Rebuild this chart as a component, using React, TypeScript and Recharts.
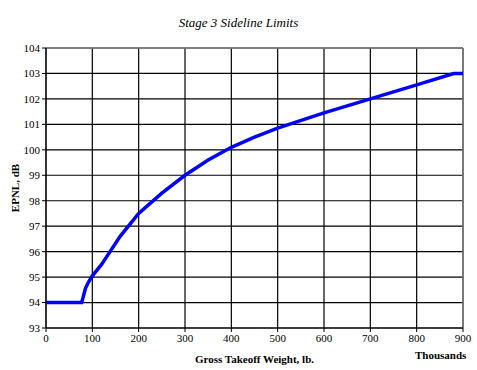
import React from 'react';
import { LineChart, Line, XAxis, YAxis, CartesianGrid, ReferenceLine, Label } from 'recharts';

// gross takeoff weight, thousands of lb
const weights = [0, 77, 80, 85, 90, 100, 120, 140, 160, 180, 200, 250, 300, 350, 400, 450, 500, 600, 700, 800, 880, 900];
// EPNL limit, dB
const epnl = [94, 94, 94.2, 94.55, 94.75, 95.05, 95.5, 96.05, 96.6, 97.05, 97.5, 98.3, 99.0, 99.6, 100.1, 100.5, 100.85, 101.45, 102.0, 102.55, 103.0, 103.0];

const xTicks = [0, 100, 200, 300, 400, 500, 600, 700, 800, 900];
const yTicks = [93, 94, 95, 96, 97, 98, 99, 100, 101, 102, 103, 104];

const data = weights.map((w, i) => ({ x: w, y: epnl[i] }));

const font = '"Liberation Serif", "Times New Roman", serif';

export default function App() {
  return (
    <div style={{ position: 'absolute', left: 0, top: 0, width: 477, height: 370, background: '#fff', fontFamily: font }}>
      <div style={{ position: 'absolute', top: 15, left: 0, width: 477, textAlign: 'center', fontStyle: 'italic', fontSize: 13, color: '#000' }}>
        Stage 3 Sideline Limits
      </div>
      <div style={{ position: 'absolute', top: 349, left: 415, fontWeight: 'bold', fontSize: 11, color: '#000' }}>
        Thousands
      </div>
      <LineChart width={477} height={370} data={data} margin={{ top: 48, right: 14, bottom: 0, left: 0 }}>
        <CartesianGrid stroke="#000" strokeWidth={1.2} />
        <XAxis
          dataKey="x"
          type="number"
          domain={[0, 900]}
          ticks={xTicks}
          interval={0}
          height={42}
          tickSize={4}
          tick={{ fill: '#000', fontSize: 11, fontFamily: font }}
          axisLine={{ stroke: '#000' }}
          tickLine={{ stroke: '#000' }}
        >
          <Label
            value="Gross Takeoff Weight, lb."
            position="insideBottom"
            offset={7}
            style={{ fontWeight: 'bold', fontSize: 11, fontFamily: font, fill: '#000' }}
          />
        </XAxis>
        <YAxis
          type="number"
          domain={[93, 104]}
          ticks={yTicks}
          interval={0}
          width={46}
          tickSize={4}
          tick={{ fill: '#000', fontSize: 11, fontFamily: font }}
          axisLine={{ stroke: '#000' }}
          tickLine={{ stroke: '#000' }}
        >
          <Label
            value="EPNL, dB"
            angle={-90}
            position="insideLeft"
            offset={15}
            style={{ fontWeight: 'bold', fontSize: 11, fontFamily: font, fill: '#000', textAnchor: 'middle' }}
          />
        </YAxis>
        <ReferenceLine y={104} stroke="#808080" strokeWidth={1.5} />
        <ReferenceLine x={900} stroke="#808080" strokeWidth={1.5} />
        <Line
          type="linear"
          dataKey="y"
          stroke="#0000FF"
          strokeWidth={3.5}
          strokeLinejoin="miter"
          dot={false}
          isAnimationActive={false}
        />
      </LineChart>
    </div>
  );
}
